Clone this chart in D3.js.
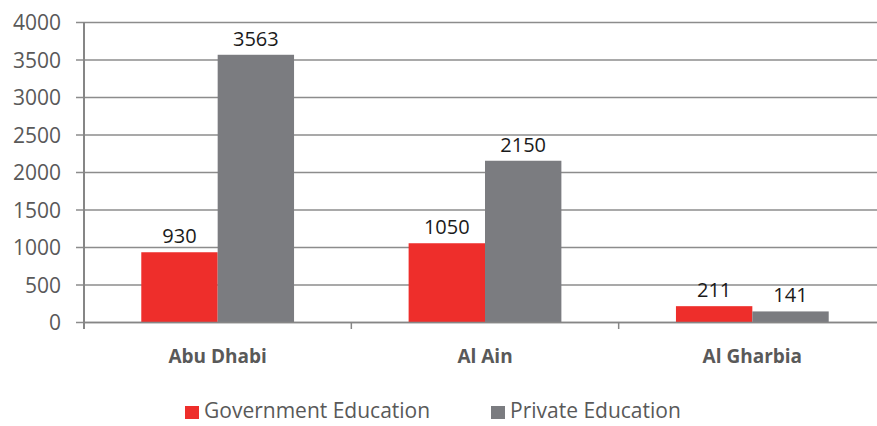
<!DOCTYPE html>
<html>
<head>
<meta charset="utf-8">
<script src="https://cdn.jsdelivr.net/npm/d3@7"></script>
<style>
  body { margin: 0; background: #fff; }
  svg { display: block; font-family: "Open Sans", sans-serif; }
</style>
</head>
<body>
<div id="chart"></div>
<script>
// values
const regions = ['Abu Dhabi', 'Al Ain', 'Al Gharbia']
const seriesNames = ['Government Education', 'Private Education']
const government = [930, 1050, 211]
const privateEd = [3563, 2150, 141]
const yTicks = [0, 500, 1000, 1500, 2000, 2500, 3000, 3500, 4000]

const colors = ['#ee2e2b', '#7b7c80']

const width = 877, height = 426
const margin = { left: 84, top: 22, bottom: 104 }
const plotW = 802 // runs a bit past the window edge, like the original
const plotH = height - margin.top - margin.bottom

const svg = d3.select('#chart').append('svg')
  .attr('width', width)
  .attr('height', height)

const x = d3.scaleBand().domain(regions).range([margin.left, margin.left + plotW])
const xs = d3.scaleBand().domain(seriesNames).range([0, x.bandwidth()]).paddingOuter(0.75).paddingInner(0)
const y = d3.scaleLinear().domain([0, 4000]).range([margin.top + plotH, margin.top])

// gridlines + y ticks
const yAxis = svg.append('g')
  .attr('transform', `translate(${margin.left},0)`)
  .call(d3.axisLeft(y).tickValues(yTicks).tickSize(-plotW).tickFormat(d3.format('d')))
  .attr('font-family', null)
  .attr('font-size', null)
yAxis.select('.domain').remove()
yAxis.selectAll('.tick line')
  .attr('x1', -8)
  .attr('x2', plotW)
  .attr('stroke', '#8c8c8c')
  .attr('stroke-width', 1.3)
yAxis.selectAll('.tick text')
  .attr('fill', '#595959')
  .attr('font-size', 21)
  .attr('x', -23)
  .attr('dy', '0.36em')

const rows = regions.map((r, i) => ({ region: r, values: [government[i], privateEd[i]] }))

const groups = svg.append('g').selectAll('g').data(rows).enter()
  .append('g')
  .attr('transform', d => `translate(${x(d.region)},0)`)

groups.selectAll('rect').data(d => d.values.map((v, j) => ({ key: seriesNames[j], v, j }))).enter()
  .append('rect')
  .attr('x', d => xs(d.key))
  .attr('width', xs.bandwidth())
  .attr('y', d => y(d.v))
  .attr('height', d => y(0) - y(d.v))
  .attr('fill', d => colors[d.j])

groups.selectAll('text').data(d => d.values.map((v, j) => ({ key: seriesNames[j], v, j }))).enter()
  .append('text')
  .attr('x', d => xs(d.key) + xs.bandwidth() / 2)
  .attr('y', d => y(d.v) - 9)
  .attr('text-anchor', 'middle')
  .attr('font-size', 20)
  .attr('fill', '#1a1a1a')
  .text(d => d.v)

// y axis line
svg.append('line')
  .attr('x1', margin.left).attr('x2', margin.left)
  .attr('y1', y(4000)).attr('y2', y(0) + 7)
  .attr('stroke', '#868686')
  .attr('stroke-width', 2)

// x axis
const xAxis = svg.append('g')
  .attr('transform', `translate(0,${y(0)})`)
  .call(d3.axisBottom(x).tickSize(0).tickPadding(0))
  .attr('font-family', null)
  .attr('font-size', null)
xAxis.select('.domain').attr('stroke', '#868686').attr('stroke-width', 1.5)
xAxis.selectAll('.tick text')
  .attr('font-size', 19)
  .attr('font-weight', 'bold')
  .attr('fill', '#595959')
  .attr('y', 41)
  .attr('dy', null)

// separators between categories
svg.append('g').selectAll('line').data(regions.slice(1)).enter()
  .append('line')
  .attr('x1', d => x(d)).attr('x2', d => x(d))
  .attr('y1', y(0)).attr('y2', y(0) + 7)
  .attr('stroke', '#868686')
  .attr('stroke-width', 1.5)

// legend
const legend = svg.append('g').attr('transform', 'translate(185,418)')
const legendX = [0, 306]
seriesNames.forEach((name, i) => {
  const item = legend.append('g').attr('transform', `translate(${legendX[i]},0)`)
  item.append('rect')
    .attr('x', 0).attr('y', -12)
    .attr('width', 14).attr('height', 13)
    .attr('fill', colors[i])
  item.append('text')
    .attr('x', 19).attr('y', 0)
    .attr('font-size', 21)
    .attr('fill', '#595959')
    .text(name)
})
</script>
</body>
</html>
